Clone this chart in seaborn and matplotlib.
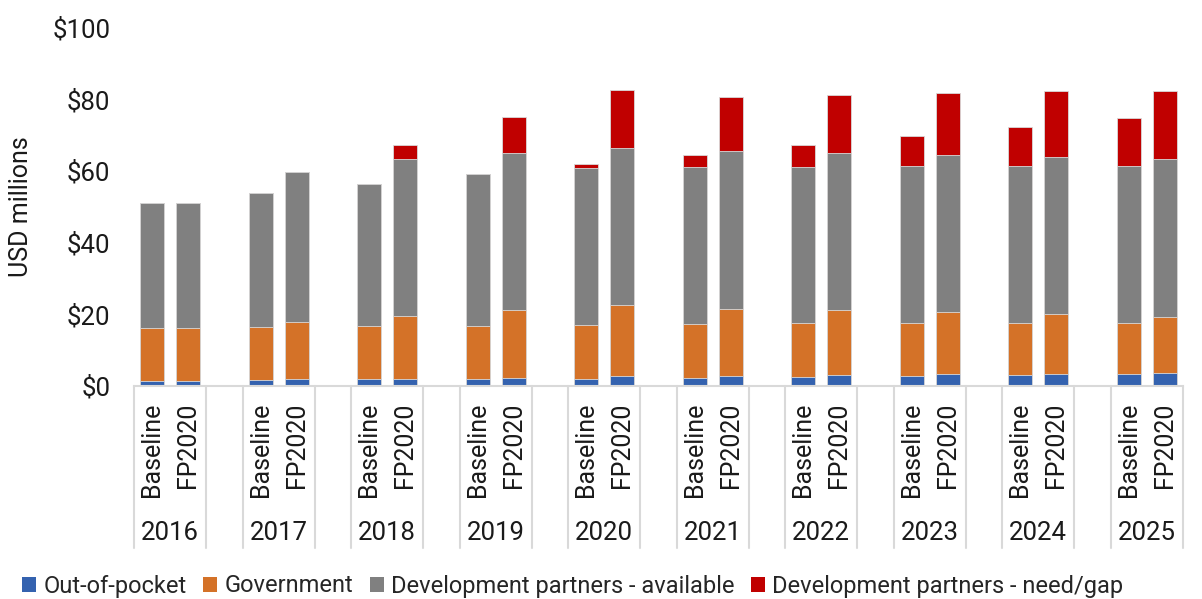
import matplotlib
matplotlib.use("Agg")
import matplotlib.pyplot as plt
from matplotlib.patches import Patch
import matplotlib.transforms as mtransforms
import numpy as np
import pandas as pd
import seaborn as sns

# Funding sources (USD millions), one value per year, Baseline vs FP2020
years = ["2016", "2017", "2018", "2019", "2020", "2021", "2022", "2023", "2024", "2025"]
scenarios = ["Baseline", "FP2020"]

oop_baseline = [1.5, 1.7, 1.9, 1.95, 2.0, 2.3, 2.6, 2.8, 3.0, 3.3]
oop_fp2020 = [1.5, 1.9, 2.0, 2.3, 2.9, 2.9, 3.1, 3.3, 3.4, 3.5]

gov_baseline = [14.6, 14.65, 14.8, 14.85, 15.1, 14.9, 14.9, 14.7, 14.5, 14.2]
gov_fp2020 = [14.6, 16.1, 17.6, 18.8, 19.6, 18.7, 18.2, 17.4, 16.7, 15.9]

dp_avail_baseline = [35.1, 37.55, 39.8, 42.4, 43.9, 44.0, 43.8, 43.9, 44.0, 44.0]
dp_avail_fp2020 = [35.1, 41.7, 43.8, 43.9, 44.0, 44.0, 43.8, 43.8, 43.9, 43.9]

dp_gap_baseline = [0.0, 0.0, 0.0, 0.0, 0.9, 3.4, 5.9, 8.4, 10.9, 13.3]
dp_gap_fp2020 = [0.0, 0.0, 3.9, 10.1, 16.3, 15.2, 16.2, 17.3, 18.3, 19.2]

series_names = ["Out-of-pocket", "Government",
                "Development partners - available", "Development partners - need/gap"]
series_colors = ["#3462AF", "#D47228", "#808080", "#C00000"]

# Long table: one row per bar, with the stacked components
rows = []
slot_order = []
for i, yr in enumerate(years):
    for s, scen in enumerate(scenarios):
        if scen == "Baseline":
            comps = [oop_baseline[i], gov_baseline[i], dp_avail_baseline[i], dp_gap_baseline[i]]
        else:
            comps = [oop_fp2020[i], gov_fp2020[i], dp_avail_fp2020[i], dp_gap_fp2020[i]]
        slot = f"{yr} {scen}"
        slot_order.append(slot)
        cum = np.cumsum(comps)
        rows.append({"slot": slot, "year": yr, "scenario": scen,
                     "c1": cum[0], "c2": cum[1], "c3": cum[2], "c4": cum[3]})
    if i < len(years) - 1:
        slot_order.append(f"{yr} spacer")
df = pd.DataFrame(rows)

sns.set_theme(style="white")
plt.rcParams["font.family"] = ["Roboto", "DejaVu Sans"]

TXT = "#1a1a1a"
FS = 18.5

fig = plt.figure(figsize=(12.02, 5.99), dpi=100)
ax = fig.add_axes([134 / 1202, 1 - 386 / 599, (1183 - 134) / 1202, (386 - 28) / 599])

# Draw cumulative totals from the top segment down so each layer shows as a stack
for col, color in zip(["c4", "c3", "c2", "c1"], series_colors[::-1]):
    sns.barplot(data=df, x="slot", y=col, order=slot_order, color=color,
                saturation=1, width=0.66, errorbar=None, ax=ax,
                edgecolor="#d9d9d9", linewidth=0.6)

ax.set_xlim(-0.5, len(slot_order) - 0.5)
ax.set_ylim(0, 100)
ax.set_yticks([0, 20, 40, 60, 80, 100])
ax.set_yticklabels([f"${v}" for v in [0, 20, 40, 60, 80, 100]], fontsize=FS, color=TXT)
ax.set_ylabel("USD millions", fontsize=18, color=TXT)
ax.yaxis.set_label_coords(-(134 - 33) / 1049, 0.5)
ax.tick_params(axis="y", length=0, pad=17)

# Scenario tick labels under each bar
pos = [slot_order.index(s) for s in df["slot"]]
ax.set_xticks(pos)
ax.set_xticklabels(df["scenario"], rotation=90, fontsize=18, color=TXT)
ax.tick_params(axis="x", length=0, pad=12)
ax.set_xlabel("")

for side in ["left", "right", "top"]:
    ax.spines[side].set_visible(False)
ax.spines["bottom"].set_color("#d9d9d9")
ax.spines["bottom"].set_linewidth(1.5)

# Year group labels and category separators
trans = mtransforms.blended_transform_factory(ax.transData, ax.transAxes)
line_bottom = -(548 - 386) / (386 - 28)
year_y = -(533 - 386) / (386 - 28)
for i, yr in enumerate(years):
    start = 3 * i - 0.5
    ax.text(3 * i + 0.5, year_y, yr, transform=trans, ha="center", va="center",
            fontsize=FS, color=TXT)
    for xline in (start, start + 2):
        ax.plot([xline, xline], [0, line_bottom], transform=trans, color="#d9d9d9",
                lw=1.5, clip_on=False)

handles = [Patch(facecolor=c, edgecolor="none") for c in series_colors]
fig.legend(handles, series_names, loc="center left", bbox_to_anchor=(22 / 1202, 1 - 586 / 599),
           ncol=4, frameon=False, fontsize=17, handlelength=0.6, handleheight=0.6,
           handletextpad=0.3, columnspacing=0.7, borderaxespad=0, borderpad=0)

fig.savefig("out.png", dpi=100)
